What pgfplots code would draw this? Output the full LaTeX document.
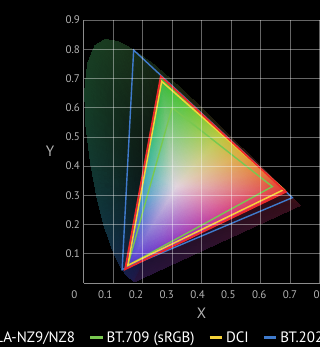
\documentclass[border=0pt]{standalone}
\usepackage{fontspec}
\setmainfont{PT Sans}
\usepackage{pgfplots}
\pgfplotsset{compat=1.18}
\definecolor{cNZ}{HTML}{EE2A2A}
\definecolor{c709}{HTML}{78C850}
\definecolor{cDCI}{HTML}{F5D23A}
\definecolor{c2020}{HTML}{3F7ACC}
\definecolor{cTick}{HTML}{B4B4B4}
\definecolor{cAxis}{HTML}{8C8C8C}

\begin{document}
\begin{tikzpicture}[x=1pt,y=1pt]
\path (0,0) rectangle (320,347);
\begin{scope}
\clip (0,0) rectangle (320,347);
\fill[black] (0,0) rectangle (320,347);
\begin{pgfinterruptboundingbox}
\begin{axis}[
  at={(83.5pt,64pt)}, anchor=south west,
  scale only axis, width=236pt, height=263pt,
  xmin=0, xmax=0.8, ymin=0, ymax=0.9,
  xtick={0,0.1,0.2,0.3,0.4,0.5,0.6,0.7,0.8},
  ytick={0.1,0.2,0.3,0.4,0.5,0.6,0.7,0.8,0.9},
  /pgf/number format/assume math mode=true,
  xticklabel={\pgfmathsetmacro\sh{26*(\tick-0.7)}\hspace*{\sh pt}\pgfmathprintnumber{\tick}},
  xticklabel style={yshift=-4pt},
  tick label style={text=cTick, font=\fontsize{11}{13}\selectfont},
  major tick length=0pt,
  axis x line*=bottom, axis y line*=left,
  axis line style={draw=cAxis, line width=0.8pt, -},
  grid=major, major grid style={draw=white, draw opacity=0.4, line width=0.7pt},
  axis on top,
  no markers,
  xlabel={X}, ylabel={Y},
  every axis x label/.style={at={(axis description cs:0.5,0)}, anchor=center, yshift=-30.5pt,
    text=cTick, font=\fontsize{15}{18}\selectfont},
  every axis y label/.style={at={(axis description cs:0,0.5)}, anchor=center, xshift=-33.5pt,
    text=cTick, font=\fontsize{15}{18}\selectfont},
  legend columns=-1,
  legend style={at={(axis description cs:-0.5085,-0.2376)}, anchor=south west,
    draw=none, fill=none, inner sep=0pt, outer sep=0pt, text=white,
    font=\fontsize{15}{18}\selectfont, column sep=0pt,
    cells={anchor=west}, nodes={inner sep=0pt, text height=12pt, text depth=3pt}},
  legend image code/.code={\draw[black,line width=0.1pt] (0pt,0pt) -- (31.5pt,0pt);
    \draw[#1,line width=3pt] (15pt,0pt) -- (27.5pt,0pt);},
]
% dim horseshoe (spectral locus), fan from centre
\addplot[patch, shader=interp, mesh/color input=explicit, point meta=explicit symbolic,
  forget plot, table/row sep=\\,
  patch table={0 1 2\\ 0 2 3\\ 0 3 4\\ 0 4 5\\ 0 5 6\\ 0 6 7\\ 0 7 8\\ 0 8 9\\
    0 9 10\\ 0 10 11\\ 0 11 12\\ 0 12 13\\ 0 13 14\\ 0 14 15\\ 0 15 16\\ 0 16 17\\
    0 17 18\\ 0 18 19\\ 0 19 20\\ 0 20 21\\ 0 21 22\\ 0 22 23\\ 0 23 24\\ 0 24 25\\
    0 25 26\\ 0 26 27\\ 0 27 28\\ 0 28 29\\ 0 29 30\\ 0 30 31\\ 0 31 32\\ 0 32 1\\}]
table[meta=c] {
x y c\\
0.3100 0.3200 rgb255=8,8,12\\
0.1741 0.0050 rgb255=38,20,62\\
0.1714 0.0051 rgb255=36,22,68\\
0.1689 0.0069 rgb255=34,24,72\\
0.1644 0.0109 rgb255=30,26,76\\
0.1566 0.0177 rgb255=26,28,76\\
0.1440 0.0297 rgb255=24,30,76\\
0.1355 0.0399 rgb255=22,33,74\\
0.1241 0.0578 rgb255=20,37,72\\
0.1096 0.0868 rgb255=18,42,70\\
0.0913 0.1327 rgb255=16,47,66\\
0.0687 0.2007 rgb255=16,51,62\\
0.0454 0.2950 rgb255=16,54,56\\
0.0235 0.4127 rgb255=18,57,48\\
0.0082 0.5384 rgb255=20,60,42\\
0.0039 0.6548 rgb255=22,62,38\\
0.0139 0.7502 rgb255=24,62,36\\
0.0389 0.8120 rgb255=25,62,34\\
0.0743 0.8338 rgb255=26,60,32\\
0.1142 0.8262 rgb255=26,56,30\\
0.1547 0.8059 rgb255=24,50,26\\
0.2296 0.7543 rgb255=22,40,20\\
0.3016 0.6923 rgb255=24,36,16\\
0.3731 0.6245 rgb255=30,34,14\\
0.4441 0.5547 rgb255=36,32,14\\
0.5125 0.4866 rgb255=42,28,14\\
0.5752 0.4242 rgb255=48,24,14\\
0.6270 0.3725 rgb255=54,20,16\\
0.6658 0.3340 rgb255=58,18,18\\
0.6915 0.3083 rgb255=62,16,20\\
0.7079 0.2920 rgb255=62,16,22\\
0.7260 0.2740 rgb255=60,15,24\\
0.7347 0.2653 rgb255=56,14,26\\
};
% bright gamut of the projector, fan from white point
\addplot[patch, shader=interp, mesh/color input=explicit, point meta=explicit symbolic,
  forget plot, table/row sep=\\,
  patch table={0 1 2\\ 0 2 3\\ 0 3 4\\ 0 4 5\\ 0 5 6\\ 0 6 7\\ 0 7 8\\ 0 8 9\\
    0 9 10\\ 0 10 11\\ 0 11 12\\ 0 12 13\\ 0 13 14\\ 0 14 15\\ 0 15 16\\ 0 16 17\\
    0 17 18\\ 0 18 1\\}]
table[meta=c] {
x y c\\
0.3127 0.3290 rgb255=225,212,222\\
0.2620 0.7070 rgb255=50,185,55\\
0.3327 0.6412 rgb255=75,195,50\\
0.4033 0.5753 rgb255=125,200,50\\
0.4740 0.5095 rgb255=185,200,55\\
0.5447 0.4437 rgb255=220,170,55\\
0.6153 0.3778 rgb255=228,120,55\\
0.6860 0.3120 rgb255=225,55,50\\
0.5952 0.2678 rgb255=220,50,85\\
0.5043 0.2237 rgb255=210,45,125\\
0.4135 0.1795 rgb255=180,45,160\\
0.3227 0.1353 rgb255=145,45,185\\
0.2318 0.0912 rgb255=105,50,200\\
0.1410 0.0470 rgb255=70,50,205\\
0.1612 0.1570 rgb255=65,90,205\\
0.1813 0.2670 rgb255=55,140,200\\
0.2015 0.3770 rgb255=50,175,170\\
0.2217 0.4870 rgb255=45,185,125\\
0.2418 0.5970 rgb255=45,190,80\\
};
% gamut triangles
\addplot[forget plot, c2020, line width=1.4pt, line join=miter]
  coordinates {(0.708,0.292) (0.170,0.797) (0.131,0.046) (0.708,0.292) (0.170,0.797)};
\addplot[forget plot, c709, line width=1.4pt, line join=miter]
  coordinates {(0.640,0.330) (0.300,0.600) (0.150,0.060) (0.640,0.330) (0.300,0.600)};
\addplot[forget plot, cDCI, line width=1.5pt, line join=miter]
  coordinates {(0.680,0.320) (0.265,0.690) (0.150,0.060) (0.680,0.320) (0.265,0.690)};
\addplot[forget plot, cNZ, line width=1.8pt, line join=miter]
  coordinates {(0.686,0.312) (0.262,0.707) (0.141,0.047) (0.686,0.312) (0.262,0.707)};
\addlegendimage{color=cNZ}
\addlegendentry{\makebox[80pt][r]{DLA-NZ9/NZ8}}
\addlegendimage{color=c709}
\addlegendentry{BT.709 (sRGB)}
\addlegendimage{color=cDCI}
\addlegendentry{DCI}
\addlegendimage{color=c2020}
\addlegendentry{BT.2020}
\end{axis}
\end{pgfinterruptboundingbox}
\end{scope}
\end{tikzpicture}
\end{document}
